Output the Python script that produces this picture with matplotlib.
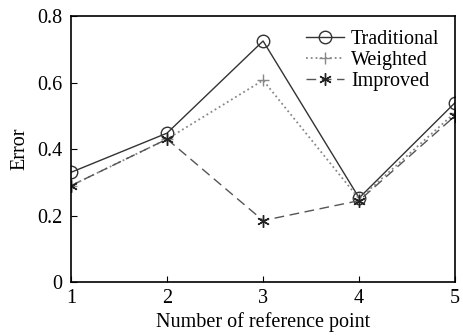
import matplotlib
matplotlib.use("Agg")
import matplotlib.pyplot as plt

plt.rcParams["font.family"] = ["Liberation Serif", "DejaVu Serif"]

# 数据
points = [1, 2, 3, 4, 5]
traditional = [0.33, 0.448, 0.725, 0.253, 0.54]
weighted = [0.29, 0.43, 0.607, 0.25, 0.51]
improved = [0.29, 0.43, 0.185, 0.245, 0.50]

fig = plt.figure(figsize=(4.64, 3.35), dpi=100)
ax = fig.add_axes([0.153, 0.158, 0.828, 0.794])

ax.plot(points, traditional, "-", color="#333333", lw=1.0, marker="o",
        markersize=9, markerfacecolor="none", markeredgecolor="#333333",
        label="Traditional")
ax.plot(points, weighted, ":", color="#888888", lw=1.3, marker="+",
        markersize=9, markeredgecolor="#888888", label="Weighted")
ax.plot(points, improved, "--", color="#555555", lw=1.0, marker=(6, 2, 0),
        markersize=9, markeredgecolor="#222222", markeredgewidth=1.0,
        dashes=(7, 4), label="Improved")

ax.set_xlim(1, 5)
ax.set_ylim(0, 0.8)
ax.set_xticks(points)
ax.set_yticks([0, 0.2, 0.4, 0.6, 0.8])
ax.set_yticklabels(["0", "0.2", "0.4", "0.6", "0.8"])
ax.tick_params(direction="in", length=4, labelsize=14.5, top=False, right=False)
ax.tick_params(axis="x", pad=5)
ax.tick_params(axis="y", pad=6)
for s in ax.spines.values():
    s.set_linewidth(1.2)

ax.set_xlabel("Number of reference point", fontsize=14.5, labelpad=3)
ax.set_ylabel("Error", fontsize=14.5, labelpad=6)

ax.legend(loc="upper right", frameon=False, fontsize=14.5, handlelength=1.9,
          handletextpad=0.35, labelspacing=0.1, borderaxespad=0.0,
          bbox_to_anchor=(0.98, 0.98))

fig.savefig("out.png", dpi=100)
